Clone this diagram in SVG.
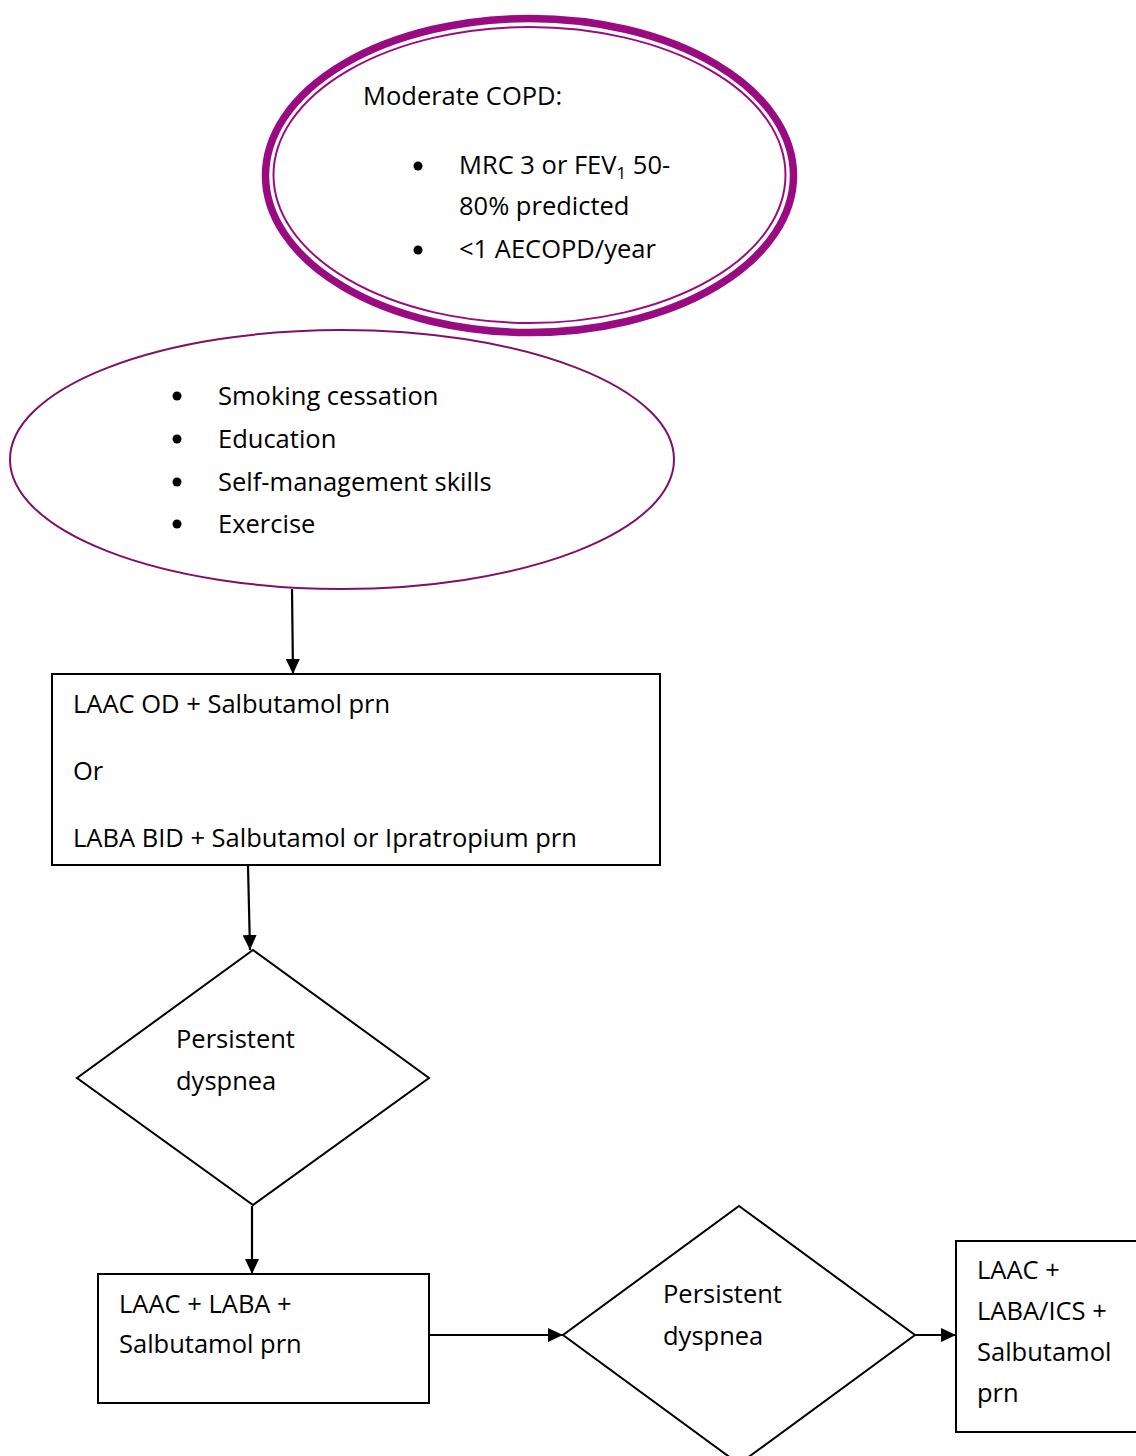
<svg xmlns="http://www.w3.org/2000/svg" width="1136" height="1456" viewBox="0 0 1136 1456">
<style>
text{font-family:"Open Sans","Liberation Sans",sans-serif;font-size:25.5px;fill:#000}
.box{fill:#fff;stroke:#000;stroke-width:2}
.conn{stroke:#000;stroke-width:2.2;fill:none}
.bul{fill:#000}
</style>
<defs>
<marker id="ah" markerUnits="userSpaceOnUse" markerWidth="15" markerHeight="14" refX="15" refY="7" orient="auto">
<path d="M0,0 L15,7 L0,14 z" fill="#000"/>
</marker>
</defs>
<rect width="1136" height="1456" fill="#fff"/>
<g id="node-moderate">
<ellipse cx="529.5" cy="175.5" rx="264" ry="157" fill="#fff" stroke="#9a0a80" stroke-width="7.5"/>
<ellipse cx="529.5" cy="175" rx="256" ry="148" fill="none" stroke="#9a0a80" stroke-width="2"/>
<text x="363" y="105">Moderate COPD:</text>
<circle class="bul" cx="418" cy="166" r="4.5"/>
<text x="459" y="174">MRC 3 or FEV<tspan font-size="17" dy="5">1</tspan><tspan dy="-5"> 50-</tspan></text>
<text x="459" y="215">80% predicted</text>
<circle class="bul" cx="418" cy="250" r="4.5"/>
<text x="459" y="258">&lt;1 AECOPD/year</text>
</g>
<g id="node-lifestyle">
<ellipse cx="342" cy="459.5" rx="332" ry="129.5" fill="#fff" stroke="#800f6c" stroke-width="2"/>
<circle class="bul" cx="177" cy="396" r="4.5"/>
<text x="218" y="405">Smoking cessation</text>
<circle class="bul" cx="177" cy="439" r="4.5"/>
<text x="218" y="448">Education</text>
<circle class="bul" cx="177" cy="482" r="4.5"/>
<text x="218" y="491">Self-management skills</text>
<circle class="bul" cx="177" cy="524" r="4.5"/>
<text x="218" y="533">Exercise</text>
</g>
<g id="node-first-line">
<rect class="box" x="52" y="674" width="608" height="191"/>
<text x="73" y="713">LAAC OD + Salbutamol prn</text>
<text x="73" y="780">Or</text>
<text x="73" y="847">LABA BID + Salbutamol or Ipratropium prn</text>
</g>
<g id="node-dyspnea1">
<polygon class="box" points="253,950 429,1078 253,1205 77,1078"/>
<text x="176" y="1048">Persistent</text>
<text x="176" y="1090">dyspnea</text>
</g>
<g id="node-dual">
<rect class="box" x="98" y="1274" width="331" height="129"/>
<text x="119" y="1313">LAAC + LABA +</text>
<text x="119" y="1353">Salbutamol prn</text>
</g>
<g id="node-dyspnea2">
<polygon class="box" points="739,1206 915,1335 739,1464 563,1335"/>
<text x="663" y="1303">Persistent</text>
<text x="663" y="1345">dyspnea</text>
</g>
<g id="node-triple">
<rect class="box" x="956" y="1241" width="190" height="191"/>
<text x="977" y="1279">LAAC +</text>
<text x="977" y="1320">LABA/ICS +</text>
<text x="977" y="1361">Salbutamol</text>
<text x="977" y="1402">prn</text>
</g>
<g id="connectors">
<line class="conn" x1="292" y1="589" x2="293" y2="674" marker-end="url(#ah)"/>
<line class="conn" x1="248" y1="866" x2="250" y2="950" marker-end="url(#ah)"/>
<line class="conn" x1="252" y1="1206" x2="252" y2="1274" marker-end="url(#ah)"/>
<line class="conn" x1="430" y1="1335" x2="563" y2="1335" marker-end="url(#ah)"/>
<line class="conn" x1="915" y1="1335" x2="956" y2="1335" marker-end="url(#ah)"/>
</g>
</svg>
